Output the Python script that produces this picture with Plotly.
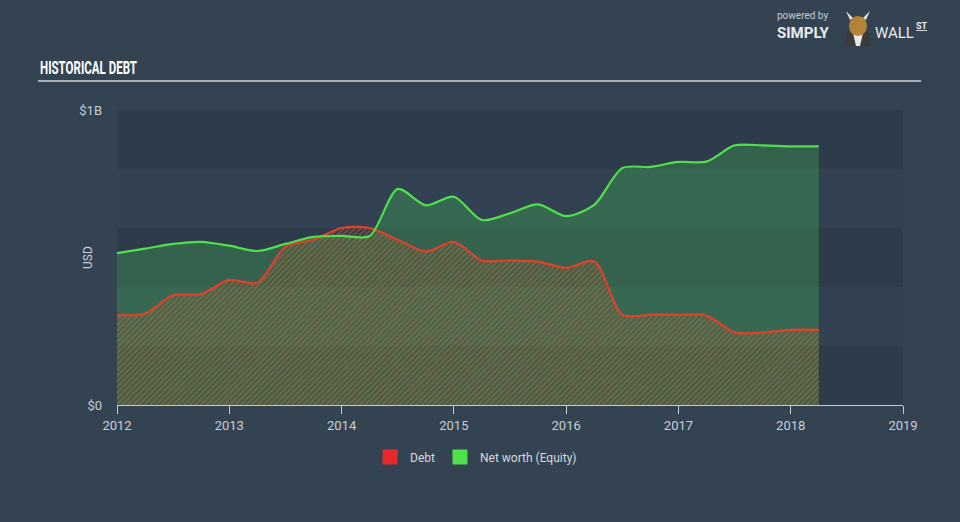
import plotly.graph_objects as go

# ---- data (USD billions), quarterly ----
years = [2012.0, 2012.25, 2012.5, 2012.75, 2013.0, 2013.25, 2013.5, 2013.75,
         2014.0, 2014.25, 2014.5, 2014.75, 2015.0, 2015.25, 2015.5, 2015.75,
         2016.0, 2016.25, 2016.5, 2016.75, 2017.0, 2017.25, 2017.5, 2017.75,
         2018.0, 2018.25]
debt = [0.305, 0.31, 0.372, 0.376, 0.424, 0.414, 0.536, 0.56,
        0.60, 0.60, 0.56, 0.52, 0.553, 0.49, 0.49, 0.486,
        0.465, 0.487, 0.306, 0.306, 0.306, 0.303, 0.246, 0.246,
        0.255, 0.255]
equity = [0.515, 0.53, 0.546, 0.553, 0.54, 0.522, 0.546, 0.57,
          0.573, 0.573, 0.732, 0.677, 0.706, 0.627, 0.65, 0.68,
          0.64, 0.678, 0.803, 0.807, 0.824, 0.825, 0.88, 0.88,
          0.877, 0.877]
xticks = [2012, 2013, 2014, 2015, 2016, 2017, 2018, 2019]
yticks = [0, 1.0]
ytick_labels = ["$0", "$1B"]

BG = "#344352"
PLOT_DARK = "#2e3b4b"
PLOT_LIGHT = "#334252"
GREEN = "#4fe04b"
RED = "#e0402c"
SANS = "Roboto, sans-serif"

fig = go.Figure()

# equity area
fig.add_trace(go.Scatter(
    x=years, y=equity, mode="lines", line=dict(color=GREEN, width=0, shape="spline", smoothing=0.8),
    fill="tozeroy", fillcolor="rgba(70,225,80,0.24)", showlegend=False, hoverinfo="skip"))
# debt hatched area
fig.add_trace(go.Scatter(
    x=years, y=debt, mode="lines", line=dict(color=RED, width=2.2, shape="spline", smoothing=0.8),
    fill="tozeroy", fillcolor="rgba(0,0,0,0)",
    fillpattern=dict(shape="/", fgcolor="rgba(225,100,50,0.85)", bgcolor="rgba(0,0,0,0)",
                     size=4, solidity=0.5),
    showlegend=False, hoverinfo="skip"))
# equity line on top
fig.add_trace(go.Scatter(
    x=years, y=equity, mode="lines", line=dict(color=GREEN, width=2.2, shape="spline", smoothing=0.8),
    showlegend=False, hoverinfo="skip"))

# legend entries
fig.add_trace(go.Scatter(x=[None], y=[None], mode="markers", name="Debt",
                         marker=dict(symbol="square", size=15, color="#e8282a")))
fig.add_trace(go.Scatter(x=[None], y=[None], mode="markers", name="Net worth (Equity)",
                         marker=dict(symbol="square", size=15, color="#4fe04b")))

# bands
shapes = []
for lo, hi in [(0.2, 0.4), (0.6, 0.8)]:
    shapes.append(dict(type="rect", xref="paper", yref="y", x0=0, x1=1, y0=lo, y1=hi,
                       fillcolor=PLOT_LIGHT, line=dict(width=0), layer="below"))


def px(xp):
    return (xp - 117) / 786


def py(yp):
    return (405 - yp) / 295


# title underline
shapes.append(dict(type="line", xref="paper", yref="paper",
                   x0=px(38), x1=px(921), y0=py(81), y1=py(81),
                   line=dict(color="#a7aeb5", width=2)))

annotations = [
    dict(text="<b>HISTORICAL DEBT</b>", xref="paper", yref="paper", x=px(38), y=py(67),
         xanchor="left", yanchor="middle", showarrow=False,
         font=dict(family=SANS, size=19, color="#ffffff")),
    dict(text="USD", xref="paper", yref="paper", x=px(88), y=py(258), textangle=-90,
         xanchor="center", yanchor="middle", showarrow=False,
         font=dict(family=SANS, size=12, color="#c9ced3")),
    dict(text="powered by", xref="paper", yref="paper", x=px(775), y=py(16),
         xanchor="left", yanchor="middle", showarrow=False,
         font=dict(family=SANS, size=10, color="#c5ccd3")),
    dict(text="<b>SIMPLY</b>", xref="paper", yref="paper", x=px(775), y=py(33),
         xanchor="left", yanchor="middle", showarrow=False,
         font=dict(family=SANS, size=15, color="#e8ecef")),
    dict(text="WALL", xref="paper", yref="paper", x=px(873), y=py(33),
         xanchor="left", yanchor="middle", showarrow=False,
         font=dict(family=SANS, size=15, color="#e8ecef")),
    dict(text="<u><b>ST</b></u>", xref="paper", yref="paper", x=px(914), y=py(26),
         xanchor="left", yanchor="middle", showarrow=False,
         font=dict(family=SANS, size=9, color="#e8ecef")),
]
# simple bull icon
shapes += [
    dict(type="path", xref="paper", yref="paper",
         path=f"M {px(845)},{py(46)} L {px(847)},{py(32)} L {px(869)},{py(32)} L {px(871)},{py(46)} Z",
         fillcolor="#3a3a3a", line=dict(width=0)),
    dict(type="path", xref="paper", yref="paper",
         path=f"M {px(856)},{py(46)} L {px(853)},{py(33)} L {px(863)},{py(33)} L {px(860)},{py(46)} Z",
         fillcolor="#e8e8e8", line=dict(width=0)),
    dict(type="circle", xref="paper", yref="paper", x0=px(849), x1=px(867), y0=py(36), y1=py(16),
         fillcolor="#b5823a", line=dict(width=0)),
    dict(type="path", xref="paper", yref="paper",
         path=f"M {px(850)},{py(20)} L {px(846)},{py(11)} L {px(853)},{py(18)} Z",
         fillcolor="#e8e0d0", line=dict(width=0)),
    dict(type="path", xref="paper", yref="paper",
         path=f"M {px(866)},{py(20)} L {px(870)},{py(11)} L {px(863)},{py(18)} Z",
         fillcolor="#e8e0d0", line=dict(width=0)),
]

fig.update_layout(
    width=960, height=522,
    margin=dict(l=117, r=57, t=110, b=117),
    paper_bgcolor=BG, plot_bgcolor=PLOT_DARK,
    shapes=shapes, annotations=annotations,
    showlegend=True,
    legend=dict(orientation="h", x=px(476), y=py(457), xanchor="center", yanchor="middle",
                font=dict(family=SANS, size=12, color="#d4d8dc"),
                bgcolor="rgba(0,0,0,0)", itemwidth=30),
    xaxis=dict(range=[2012, 2019], tickvals=xticks, ticktext=[str(t) for t in xticks],
               showgrid=False, zeroline=False, showline=True, linecolor="#c3cad1", linewidth=1,
               ticks="outside", ticklen=8, tickcolor="#c3cad1",
               tickfont=dict(family=SANS, size=13, color="#c9ced3")),
    yaxis=dict(range=[0, 1.0], tickvals=yticks, ticktext=ytick_labels,
               showgrid=False, zeroline=False, showline=False, ticks="",
               ticklabelstandoff=14,
               tickfont=dict(family=SANS, size=13, color="#c9ced3")),
)

# condensed look for the title (no condensed font installed): keep its left edge fixed
post = """
var gd = document.getElementById('{plot_id}');
function squeeze(){
  gd.querySelectorAll('.annotation-text').forEach(function(t){
    if (t.textContent.trim() === 'HISTORICAL DEBT' && !t.getAttribute('textLength')) {
      var b0 = t.getBBox();
      t.setAttribute('textLength', '97'); t.setAttribute('lengthAdjust', 'spacingAndGlyphs');
      var b1 = t.getBBox();
      var x = parseFloat(t.getAttribute('x') || '0');
      t.setAttribute('x', x + (b0.x - b1.x));
    }
  });
}
squeeze();
if (gd.on) { gd.on('plotly_afterplot', squeeze); }
"""

fig.write_html("out.html", post_script=post)
